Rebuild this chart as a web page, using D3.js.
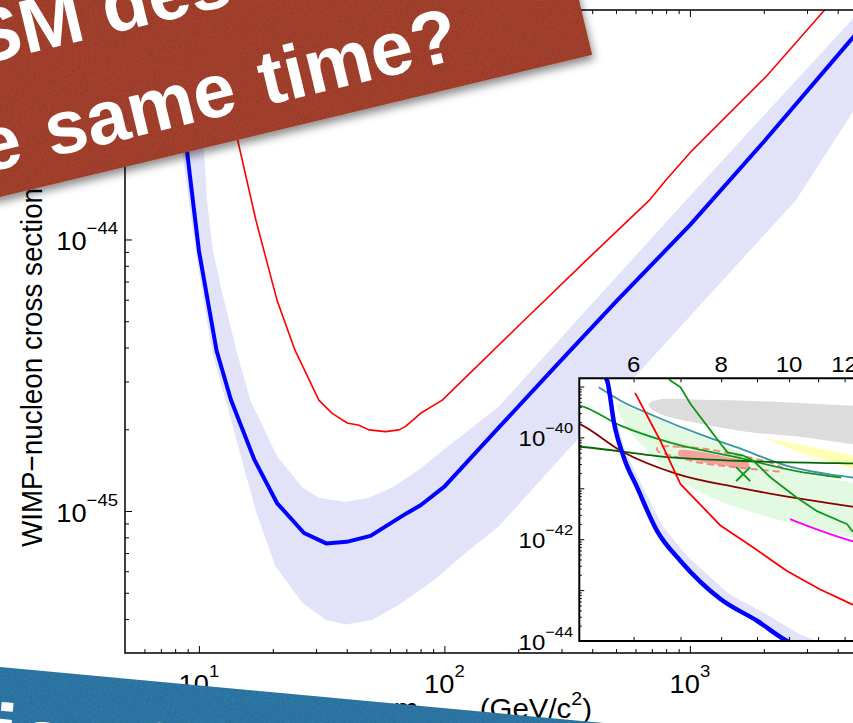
<!DOCTYPE html>
<html>
<head>
<meta charset="utf-8">
<script src="https://cdn.jsdelivr.net/npm/d3@7"></script>
<style>
  html, body { margin: 0; padding: 0; background: #fff; }
  svg { display: block; font-family: "Liberation Sans", Arial, Helvetica, sans-serif; }
</style>
</head>
<body>
<svg id="chart" width="853" height="723"></svg>
<script>
// ---------- Main panel data: [WIMP mass (GeV/c^2), cross section (cm^2)] ----------
const luxLimit = [[7.4,1.0e-43],[8.0,5.5e-44],[8.9,2.2e-44],[9.4,1.45e-44],[10,9.1e-45],[11.8,3.9e-45],
  [13.5,2.57e-45],[16.8,1.55e-45],[20.8,1.07e-45],[26.8,8.3e-46],[33,7.6e-46],[40,7.7e-46],[50,8.1e-46],
  [70,9.8e-46],[80,1.05e-45],[100,1.23e-45],[170,2.07e-45],[300,3.6e-45],[500,5.9e-45],[1000,1.13e-44],
  [2000,2.29e-44],[4500,5.4e-44],[5000,6.0e-44]];
const luxBandUpper = [[9.54,7e-44],[9.8,4.57e-44],[10.48,2.14e-44],[10.78,1.39e-44],[11.4,9.1e-45],
  [12.65,5.98e-45],[14.2,3.92e-45],[16.2,2.56e-45],[20.8,1.59e-45],[26.4,1.22e-45],[30.8,1.12e-45],
  [39.6,1.08e-45],[49.3,1.12e-45],[61.3,1.22e-45],[78.7,1.42e-45],[107.7,1.78e-45],[167,2.43e-45],
  [300,4.36e-45],[960,1.39e-44],[4570,6.45e-44],[5000,7.1e-44]];
const luxBandLower = [[7.3,7e-44],[8.5,2.2e-44],[9.7,9.1e-45],[11.3,3.9e-45],[12.85,2.56e-45],[17.0,1.01e-45],
  [20.5,6.25e-46],[26.4,4.59e-46],[32.8,3.98e-46],[39.6,3.82e-46],[50.8,3.98e-46],[65.3,4.52e-46],
  [89.2,5.5e-46],[122,7.0e-46],[167,8.8e-46],[300,1.58e-45],[2692,1.39e-44],[5000,3.3e-44]];
const xenon100Limit = [[11.5,7e-44],[12.0,4.7e-44],[14.3,2.38e-44],[17.06,1.18e-44],[20.8,5.98e-45],
  [24.6,3.92e-45],[30.8,2.56e-45],[34.9,2.29e-45],[40.2,2.11e-45],[44.9,2.07e-45],[49.2,1.99e-45],
  [57.6,1.96e-45],[65.3,1.99e-45],[69.5,2.05e-45],[80,2.29e-45],[98,2.56e-45],[200,4.8e-45],[400,8.8e-45],
  [681,1.39e-44],[796,1.65e-44],[1022,2.13e-44],[2033,3.96e-44],[3516,6.95e-44],[4000,8.2e-44]];

const mainXTicks = [10, 100, 1000];
const mainXExp = ["1", "2", "3"];
const mainYTicks = [1e-44, 1e-45];
const mainYExp = ["\u221244", "\u221245"];

// ---------- Inset (low-mass zoom) data ----------
const insetLux = [[5.45,1.6e-39],[5.50,1.31e-39],[5.63,1.84e-40],[5.81,4.04e-41],[6.07,1.04e-41],
  [6.48,1.46e-42],[7.0,3.74e-43],[7.99,6.6e-44],[9.01,2.47e-44],[9.93,1.0e-44],[10.5,7e-45]];
const insetLuxBandUpper = [[5.52,1.6e-39],[5.66,2.2e-40],[5.86,4.8e-41],[6.15,1.25e-41],[6.6,1.8e-42],
  [7.15,4.7e-43],[8.2,8.5e-44],[9.3,3.3e-44],[10.3,1.4e-44],[10.95,1.0e-44],[11.5,7e-45]];
const damaRegion = [[6.30,4.40e-40],[6.45,5.40e-40],[7.47,5.52e-40],[9.11,5.16e-40],[12.3,4.21e-40],
  [13.5,3.95e-40],[13.5,6.3e-41],[12.3,7.41e-41],[10.35,1.03e-40],[8.88,1.25e-40],[7.47,1.86e-40],
  [6.77,2.48e-40],[6.45,3.21e-40]];
const cresstRegion = [[9.20,9.86e-41],[12.3,4.5e-41],[13.5,3.9e-41],[13.5,2.0e-41],[12.3,2.45e-41],[10.35,5.0e-41]];
const cdmsSiRegion = [[5.68,4.54e-40],[6.07,3.36e-40],[6.77,1.84e-40],[7.55,1.0e-40],[8.43,5.47e-41],
  [9.41,2.99e-41],[10.47,1.9e-41],[12.3,1.3e-41],[13.5,1.1e-41],[13.5,8.8e-43],[12.3,1.07e-42],
  [10.47,1.83e-42],[9.41,2.66e-42],[8.43,4.19e-42],[7.55,7.69e-42],[6.77,1.9e-41],[6.21,6.35e-41],[5.88,1.57e-40]];
const cdmsSiBestFit = [8.6, 1.9e-41];
const cogentContour = [[6.49,6.27e-41],[7.00,6.56e-41],[7.73,5.73e-41],[8.52,4.36e-41],[9.41,3.18e-41],
  [9.77,2.53e-41],[9.77,2.21e-41],[9.11,2.31e-41],[8.26,2.65e-41],[7.47,3.18e-41],[6.89,4.17e-41],[6.49,5.47e-41]];
const cogentCore = [[6.96,5.47e-41],[7.47,5.23e-41],[8.11,4.17e-41],[8.75,3.18e-41],[8.75,2.53e-41],
  [8.11,2.77e-41],[7.47,3.33e-41],[6.96,4.36e-41]];
const edelweissLimit = [[5.35,9.64e-40],[5.75,5.27e-40],[6.41,2.67e-40],[7.55,1.08e-40],[8.43,6.35e-41],
  [9.93,2.77e-41],[12.3,1.63e-41],[13.5,1.38e-41]];
const cdmsGeLimit = [[4.9,4.4e-40],[5.02,4.21e-40],[5.75,1.70e-40],[6.77,7.87e-41],[8.43,4.04e-41],
  [10.47,2.05e-41],[11.86,1.63e-41]];
const xenon10Limit = [[4.9,6.7e-41],[5.02,6.56e-41],[6.77,4.04e-41],[8.43,3.48e-41],[12.3,3.08e-41],[13.5,3.02e-41]];
const cdmsSiLimit = [[6.7,1.6e-39],[6.77,1.31e-39],[7.0,9.64e-40],[7.23,4.6e-40],[7.73,1.36e-40],
  [7.99,7.41e-41],[8.17,5.07e-41],[8.61,4.37e-41],[8.89,3.48e-41],[9.41,1.63e-41],[10.25,6.59e-42],
  [10.94,3.61e-42],[12.1,1.97e-42],[12.3,1.46e-42],[13.2,7.4e-43]];
const cdmsLtLimit = [[4.9,2.1e-40],[5.02,1.84e-40],[5.75,5.47e-41],[6.93,1.9e-41],[8.43,1.04e-41],
  [10.47,6.12e-42],[12.3,4.38e-42],[13.5,3.7e-42]];
const xenon100Inset = [[6.03,7.48e-40],[6.55,8.61e-41],[7.0,1.21e-41],[7.99,1.83e-42],[8.89,6.84e-43],
  [9.93,2.38e-43],[11.06,1.04e-43],[12.3,5.25e-44],[13.5,3.5e-44]];
const simpleLimit = [[10.03,2.48e-42],[11.1,1.46e-42],[12.3,9.2e-43],[13.5,6.8e-43]];

const insetXTicks = [6, 8, 10, 12];
const insetYTicks = [1e-40, 1e-42, 1e-44];
const insetYExp = ["\u221240", "\u221242", "\u221244"];

// ---------- Slide banners ----------
const redBannerLines = ["Can the SM describe both", "at the same time?"];
const blueBannerLine = "Motivation to";

// ---------- Setup ----------
const svg = d3.select("#chart");
const defs = svg.append("defs");
const stretch = 1.09;   // chart text is slightly wide

const M = {left: 125, right: 861.5, top: 10, bottom: 653};
const x = d3.scaleLog().domain([5, 5000]).range([M.left, M.right]);
const y = d3.scaleLog().domain([3e-46, 7e-44]).range([M.bottom, M.top]);

defs.append("clipPath").attr("id", "clipMain").append("rect")
  .attr("x", M.left).attr("y", M.top).attr("width", M.right - M.left).attr("height", M.bottom - M.top);

function supLabel(parent, px, py, base, sup, o) {
  const t = parent.append("text")
    .attr("transform", `translate(${px},${py}) scale(${stretch},1)`)
    .attr("text-anchor", o.anchor).attr("font-size", o.size).attr("fill", "#000");
  t.append("tspan").text(base);
  if (sup) t.append("tspan").attr("font-size", o.supSize).attr("dy", o.supDy).text(sup);
  return t;
}

function ticks(parent, gen, tr, values, size) {
  const a = parent.append("g").attr("transform", tr)
    .call(gen.tickValues(values).tickSize(-size).tickSizeOuter(0).tickFormat(""));
  a.select(".domain").remove();
  a.selectAll("text").remove();
  a.selectAll("line").attr("stroke", "#000").attr("stroke-width", 1);
}

function minorLog(lo, hi) {
  const out = [];
  for (let e = Math.floor(Math.log10(lo)); e <= Math.ceil(Math.log10(hi)); e++) {
    for (let k = 2; k <= 9; k++) {
      const v = k * Math.pow(10, e);
      if (v > lo * 1.0001 && v < hi * 0.9999) out.push(v);
    }
  }
  return out;
}

// ---------- Main panel ----------
const main = svg.append("g");
const plot = main.append("g").attr("clip-path", "url(#clipMain)");
const lineMain = d3.line().x(d => x(d[0])).y(d => y(d[1]));
const polyMain = d3.line().x(d => x(d[0])).y(d => y(d[1])).curve(d3.curveLinearClosed);

plot.append("path")
  .attr("d", polyMain(luxBandUpper.concat(luxBandLower.slice().reverse())))
  .attr("fill", "#E2E2F9");
plot.append("path").attr("d", lineMain(xenon100Limit))
  .attr("fill", "none").attr("stroke", "#FF0000").attr("stroke-width", 1.6).attr("stroke-linejoin", "round");
plot.append("path").attr("d", lineMain(luxLimit))
  .attr("fill", "none").attr("stroke", "#0000FF").attr("stroke-width", 4).attr("stroke-linejoin", "round");

// frame
main.append("path")
  .attr("d", `M${M.right},${M.top}H${M.left}V${M.bottom}H${M.right}`)
  .attr("fill", "none").attr("stroke", "#000").attr("stroke-width", 1.5);

const xMinor = minorLog(5, 5000);
const yMinor = minorLog(3e-46, 7e-44);
ticks(main, d3.axisBottom(x), `translate(0,${M.bottom})`, mainXTicks, 7);
ticks(main, d3.axisBottom(x), `translate(0,${M.bottom})`, xMinor, 4);
ticks(main, d3.axisTop(x), `translate(0,${M.top})`, mainXTicks, 7);
ticks(main, d3.axisTop(x), `translate(0,${M.top})`, xMinor, 4);
ticks(main, d3.axisLeft(y), `translate(${M.left},0)`, mainYTicks, 7);
ticks(main, d3.axisLeft(y), `translate(${M.left},0)`, yMinor, 4);

mainXTicks.forEach((v, i) => supLabel(main, x(v), 693, "10", mainXExp[i],
  {anchor: "middle", size: 25, supSize: 17, supDy: -16}));
mainYTicks.forEach((v, i) => supLabel(main, 118, y(v) + 11, "10", mainYExp[i],
  {anchor: "end", size: 25, supSize: 17, supDy: -16}));

// axis titles
const yTitle = main.append("text")
  .attr("transform", `translate(42,547) scale(${stretch},1) rotate(-90)`)
  .attr("font-size", 27.8).attr("fill", "#000").attr("text-anchor", "start");
yTitle.append("tspan").text("WIMP\u2212nucleon cross section (cm");
yTitle.append("tspan").attr("font-size", 18).attr("dy", -12).text("2");
yTitle.append("tspan").attr("dy", 12).text(")");

const xTitle = main.append("text")
  .attr("transform", `translate(592,718) scale(${stretch},1)`)
  .attr("font-size", 27).attr("fill", "#000").attr("text-anchor", "end");
xTitle.append("tspan").text("m");
xTitle.append("tspan").attr("font-size", 18).attr("dy", 7).text("WIMP");
xTitle.append("tspan").attr("dy", -7).text(" (GeV/c");
xTitle.append("tspan").attr("font-size", 18).attr("dy", -13).text("2");
xTitle.append("tspan").attr("dy", 13).text(")");

// ---------- Inset ----------
const I = {left: 579.3, top: 378.3, bottom: 641, right: 900};
const xi = d3.scaleLog().domain([5.02, 14]).range([I.left, I.left + 701 * Math.log10(14 / 5.02)]);
const yi = d3.scaleLog().domain([1e-44, 1.45e-39]).range([I.bottom, I.top]);

defs.append("clipPath").attr("id", "clipInset").append("rect")
  .attr("x", I.left).attr("y", I.top).attr("width", I.right - I.left).attr("height", I.bottom - I.top);

const inset = svg.append("g");
inset.append("rect").attr("x", I.left).attr("y", I.top)
  .attr("width", I.right - I.left).attr("height", I.bottom - I.top).attr("fill", "#fff");
const ip = inset.append("g").attr("clip-path", "url(#clipInset)");

const lineI = d3.line().x(d => xi(d[0])).y(d => yi(d[1]));
const smoothI = d3.line().x(d => xi(d[0])).y(d => yi(d[1])).curve(d3.curveMonotoneX);
const blobI = d3.line().x(d => xi(d[0])).y(d => yi(d[1])).curve(d3.curveCatmullRomClosed.alpha(0.5));
const polyI = d3.line().x(d => xi(d[0])).y(d => yi(d[1])).curve(d3.curveLinearClosed);

ip.append("path").attr("d", blobI(cdmsSiRegion)).attr("fill", "#E2FAE2");
ip.append("path").attr("d", polyI(cresstRegion)).attr("fill", "#FFFFB3");
ip.append("path").attr("d", blobI(damaRegion)).attr("fill", "#DCDCDC");
ip.append("path").attr("d", blobI(cogentCore)).attr("fill", "#F7A0A0");
ip.append("path").attr("d", blobI(cogentContour)).attr("fill", "none")
  .attr("stroke", "#F48686").attr("stroke-width", 2).attr("stroke-dasharray", "7,4");
ip.append("path")
  .attr("d", polyI(insetLuxBandUpper.concat(insetLux.slice().reverse())))
  .attr("fill", "#E2E2F9");

const insetLines = [
  [cdmsLtLimit, "#8B0000", smoothI],
  [edelweissLimit, "#3A97A9", smoothI],
  [cdmsGeLimit, "#12961A", smoothI],
  [xenon10Limit, "#006A00", smoothI],
  [cdmsSiLimit, "#12961A", lineI],
  [xenon100Inset, "#FF0000", lineI],
  [simpleLimit, "#FF00FF", smoothI]
];
insetLines.forEach(([data, color, gen]) => {
  ip.append("path").attr("d", gen(data)).attr("fill", "none")
    .attr("stroke", color).attr("stroke-width", 1.8).attr("stroke-linejoin", "round");
});
ip.append("path").attr("d", smoothI(insetLux)).attr("fill", "none")
  .attr("stroke", "#0000FF").attr("stroke-width", 4.5).attr("stroke-linejoin", "round");

// best-fit marker
const bx = xi(cdmsSiBestFit[0]), by = yi(cdmsSiBestFit[1]);
ip.append("path").attr("d", `M${bx - 7},${by - 7}L${bx + 7},${by + 7}M${bx - 7},${by + 7}L${bx + 7},${by - 7}`)
  .attr("stroke", "#12961A").attr("stroke-width", 2).attr("fill", "none");

// inset frame and ticks
inset.append("path")
  .attr("d", `M${I.right},${I.top}H${I.left}V${I.bottom}H${I.right}`)
  .attr("fill", "none").attr("stroke", "#000").attr("stroke-width", 2);
const xiTicks = [6, 7, 8, 9, 10, 11, 12, 13];
ticks(inset, d3.axisBottom(xi), `translate(0,${I.bottom})`, xiTicks, 4);
ticks(inset, d3.axisTop(xi), `translate(0,${I.top})`, xiTicks, 4);
ticks(inset, d3.axisLeft(yi), `translate(${I.left},0)`, [1e-44, 1e-43, 1e-42, 1e-41, 1e-40, 1e-39], 5);
ticks(inset, d3.axisLeft(yi), `translate(${I.left},0)`, minorLog(1e-44, 1.45e-39), 2.5);

insetXTicks.forEach(v => supLabel(inset, xi(v), 372, String(v), null, {anchor: "middle", size: 22}));
insetYTicks.forEach((v, i) => supLabel(inset, 573, yi(v) + 9, "10", insetYExp[i],
  {anchor: "end", size: 22, supSize: 15, supDy: -13}));

// ---------- Banners ----------
const shadow = defs.append("filter").attr("id", "shadow")
  .attr("filterUnits", "userSpaceOnUse").attr("x", -600).attr("y", -700).attr("width", 2000).attr("height", 1200);
shadow.append("feDropShadow").attr("dx", 1).attr("dy", 5).attr("stdDeviation", 4)
  .attr("flood-color", "#000").attr("flood-opacity", 0.45);

const grain = defs.append("filter").attr("id", "grain")
  .attr("filterUnits", "userSpaceOnUse").attr("x", -600).attr("y", -700).attr("width", 2000).attr("height", 1200);
grain.append("feTurbulence").attr("type", "fractalNoise").attr("baseFrequency", 0.75)
  .attr("numOctaves", 2).attr("seed", 3).attr("result", "n");
grain.append("feColorMatrix").attr("in", "n").attr("type", "matrix")
  .attr("values", "0 0 0 0 0  0 0 0 0 0  0 0 0 0 0  0.35 0 0 0 -0.12").attr("result", "a");
grain.append("feComposite").attr("in", "a").attr("in2", "SourceGraphic").attr("operator", "in");

// red banner
const red = svg.append("g").attr("transform", "translate(0,197) rotate(-13.5)");
red.append("rect").attr("x", -400).attr("y", -420).attr("width", 1009).attr("height", 420)
  .attr("fill", "#A8432F").attr("filter", "url(#shadow)");
red.append("rect").attr("x", -400).attr("y", -420).attr("width", 1009).attr("height", 420)
  .attr("fill", "#000").attr("filter", "url(#grain)");
const r1 = red.append("text").attr("font-size", 76).attr("font-weight", "bold").attr("fill", "#fff")
  .attr("y", -133).text(redBannerLines[0]);
r1.attr("x", 8 - r1.node().getSubStringLength(0, 8));
red.append("text").attr("font-size", 76).attr("font-weight", "bold").attr("fill", "#fff")
  .attr("word-spacing", 5)
  .attr("text-anchor", "end").attr("x", 482).attr("y", -27).text(redBannerLines[1]);

// blue banner
const blue = svg.append("g").attr("transform", "translate(0,667) rotate(5.3)");
blue.append("rect").attr("x", -200).attr("y", 0).attr("width", 1300).attr("height", 300)
  .attr("fill", "#2E7BAB");
blue.append("rect").attr("x", -200).attr("y", 0).attr("width", 1300).attr("height", 300)
  .attr("fill", "#000").attr("filter", "url(#grain)");
const b1 = blue.append("text").attr("font-size", 86).attr("font-weight", "bold").attr("fill", "#fff")
  .attr("y", 97).text(blueBannerLine);
b1.attr("x", -1 - b1.node().getSubStringLength(0, 7));
</script>
</body>
</html>
